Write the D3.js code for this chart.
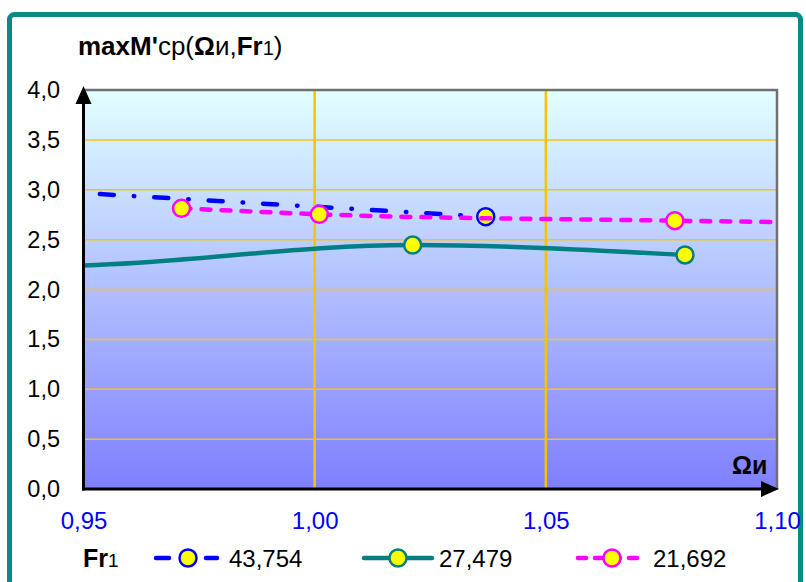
<!DOCTYPE html>
<html>
<head>
<meta charset="utf-8">
<script src="https://cdn.jsdelivr.net/npm/d3@7"></script>
<style>
  html, body { margin: 0; padding: 0; background: #fff; }
  svg { display: block; }
  text { font-family: "Liberation Sans", Arial, sans-serif; }
</style>
</head>
<body>
<svg id="chart" width="806" height="582"></svg>
<script>
// ---------- data ----------
const xTicks = [0.95, 1.00, 1.05, 1.10];
const yTicks = [0, 0.5, 1.0, 1.5, 2.0, 2.5, 3.0, 3.5, 4.0];
const xDomain = [0.95, 1.10];
const yDomain = [0, 4];
const seriesNames = ["43,754", "27,479", "21,692"];
// points outside the x domain only shape the curve (clipped, no marker)
const s1X = [0.93, 1.037];
const s1Y = [3.02, 2.73];
const s2X = [0.90, 0.942, 1.0212, 1.0801];
const s2Y = [2.235, 2.235, 2.446, 2.346];
const s3X = [0.9712, 1.0010, 1.0779, 1.12];
const s3Y = [2.814, 2.754, 2.690, 2.665];
const titleParts = [
  {t: "maxM'", w: "bold"}, {t: "cp(", w: "normal"}, {t: "Ω", w: "bold"},
  {t: "и", w: "normal"}, {t: ",", w: "normal"}, {t: "Fr", w: "bold"},
  {t: "1", w: "normal", small: true}, {t: ")", w: "normal"}
];

// ---------- layout ----------
const svg = d3.select("#chart");
const L = 83.5, R = 777, T = 90, B = 489;
const x = d3.scaleLinear().domain(xDomain).range([L, R]);
const y = d3.scaleLinear().domain(yDomain).range([B, T]);

const styles = [
  {color: "#0000ff", dash: "14,20,0.5,20", curve: d3.curveLinear},
  {color: "#008080", dash: null, curve: d3.curveMonotoneX},
  {color: "#ff00ff", dash: "9,11", curve: d3.curveMonotoneX}
];
const series = [
  {name: seriesNames[0], pts: s1X.map((v, i) => ({x: v, y: s1Y[i]}))},
  {name: seriesNames[1], pts: s2X.map((v, i) => ({x: v, y: s2Y[i]}))},
  {name: seriesNames[2], pts: s3X.map((v, i) => ({x: v, y: s3Y[i]}))}
];

const defs = svg.append("defs");
const grad = defs.append("linearGradient").attr("id", "bg")
  .attr("x1", 0).attr("y1", 0).attr("x2", 0).attr("y2", 1);
grad.append("stop").attr("offset", "0%").attr("stop-color", "#e2ffff");
grad.append("stop").attr("offset", "100%").attr("stop-color", "#7f7fff");
defs.append("clipPath").attr("id", "clip").append("rect")
  .attr("x", L).attr("y", T).attr("width", R - L).attr("height", B - T);

// outer frame
svg.append("rect").attr("x", 9.5).attr("y", 14.5).attr("width", 791).attr("height", 620)
  .attr("rx", 5).attr("fill", "none").attr("stroke", "#0a8a82").attr("stroke-width", 5);

// plot background
svg.append("rect").attr("x", L).attr("y", T).attr("width", R - L).attr("height", B - T)
  .attr("fill", "url(#bg)");

// gridlines
svg.append("g").selectAll("line").data(yTicks.filter(v => v > 0 && v < 4)).join("line")
  .attr("x1", L).attr("x2", R).attr("y1", d => y(d)).attr("y2", d => y(d))
  .attr("stroke", "#f7c21a").attr("stroke-width", 1.5);
svg.append("g").selectAll("line").data(xTicks.filter(v => v > xDomain[0] && v < xDomain[1])).join("line")
  .attr("y1", T).attr("y2", B).attr("x1", d => x(d)).attr("x2", d => x(d))
  .attr("stroke", "#ffc000").attr("stroke-width", 2.5);

// top & right border
svg.append("path").attr("d", `M${L},${T}H${R}V${B}`)
  .attr("fill", "none").attr("stroke", "#707070").attr("stroke-width", 2.5);

// series
const gS = svg.append("g").attr("clip-path", "url(#clip)");
series.forEach((s, i) => {
  const st = styles[i];
  const line = d3.line().x(d => x(d.x)).y(d => y(d.y)).curve(st.curve);
  gS.append("path").datum(s.pts).attr("d", line)
    .attr("fill", "none").attr("stroke", st.color).attr("stroke-width", 4.5)
    .attr("stroke-linecap", "round")
    .attr("stroke-dasharray", st.dash);
  gS.append("g").selectAll("circle")
    .data(s.pts.filter(p => p.x >= xDomain[0] && p.x <= xDomain[1])).join("circle")
    .attr("cx", d => x(d.x)).attr("cy", d => y(d.y)).attr("r", 8.5)
    .attr("fill", "#ffff00").attr("stroke", st.color).attr("stroke-width", 2.5);
});

// axes lines with arrows
svg.append("line").attr("x1", L).attr("x2", L).attr("y1", B + 1.5).attr("y2", 100)
  .attr("stroke", "#000").attr("stroke-width", 3);
svg.append("line").attr("x1", L - 1.5).attr("x2", 765).attr("y1", B).attr("y2", B)
  .attr("stroke", "#000").attr("stroke-width", 3);
svg.append("path").attr("d", `M${L},86L${L - 8},104L${L + 8},104Z`).attr("fill", "#000");
svg.append("path").attr("d", `M779,${B}L761,${B - 8}L761,${B + 8}Z`).attr("fill", "#000");

// tick labels via axes
const comma = f => v => f(v).replace(".", ",");
const yAxis = d3.axisLeft(y).tickValues(yTicks).tickFormat(comma(d3.format(".1f")))
  .tickSize(0).tickPadding(23.5);
const gy = svg.append("g").attr("transform", `translate(${L},0)`).call(yAxis);
gy.select(".domain").remove();
gy.selectAll("text").attr("font-size", 23.5).attr("fill", "#000")
  .style("font-family", '"Liberation Sans", Arial, sans-serif');

const xAxis = d3.axisBottom(x).tickValues(xTicks).tickFormat(comma(d3.format(".2f")))
  .tickSize(0).tickPadding(22.5);
const gx = svg.append("g").attr("transform", `translate(0,${B})`).call(xAxis);
gx.select(".domain").remove();
gx.selectAll("text").attr("font-size", 24).attr("fill", "#0000ff")
  .style("font-family", '"Liberation Sans", Arial, sans-serif');

// title
const title = svg.append("text").attr("x", 78).attr("y", 55).attr("font-size", 26).attr("fill", "#000");
titleParts.forEach(p => {
  title.append("tspan").text(p.t).attr("font-weight", p.w)
    .attr("font-size", p.small ? 20 : null);
});

// x axis name
svg.append("text").attr("x", 732).attr("y", 474).attr("font-size", 25)
  .attr("font-weight", "bold").text("Ωи");

// legend
const LY = 558;
const leg = svg.append("text").attr("x", 83).attr("y", LY + 9).attr("font-size", 25).attr("font-weight", "bold");
leg.append("tspan").text("Fr");
leg.append("tspan").text("1").attr("font-weight", "normal").attr("font-size", 19);
const legX = [152, 362, 576];
series.forEach((s, i) => {
  const st = styles[i];
  const g = svg.append("g").attr("transform", `translate(${legX[i]},${LY})`);
  if (i === 0) {
    g.append("line").attr("x1", 4).attr("x2", 17).attr("y1", 0).attr("y2", 0)
      .attr("stroke", st.color).attr("stroke-width", 4.5).attr("stroke-linecap", "round");
    g.append("line").attr("x1", 54).attr("x2", 65).attr("y1", 0).attr("y2", 0)
      .attr("stroke", st.color).attr("stroke-width", 4.5).attr("stroke-linecap", "round");
  } else {
    g.append("line").attr("x1", 2).attr("x2", 70).attr("y1", 0).attr("y2", 0)
      .attr("stroke", st.color).attr("stroke-width", 4.5).attr("stroke-linecap", "round")
      .attr("stroke-dasharray", st.dash ? "8,9" : null);
  }
  g.append("circle").attr("cx", 36).attr("cy", 0).attr("r", 8.5)
    .attr("fill", "#ffff00").attr("stroke", st.color).attr("stroke-width", 2.5);
  g.append("text").attr("x", 77).attr("y", 8.5).attr("font-size", 24).attr("fill", "#000").text(s.name);
});
</script>
</body>
</html>
